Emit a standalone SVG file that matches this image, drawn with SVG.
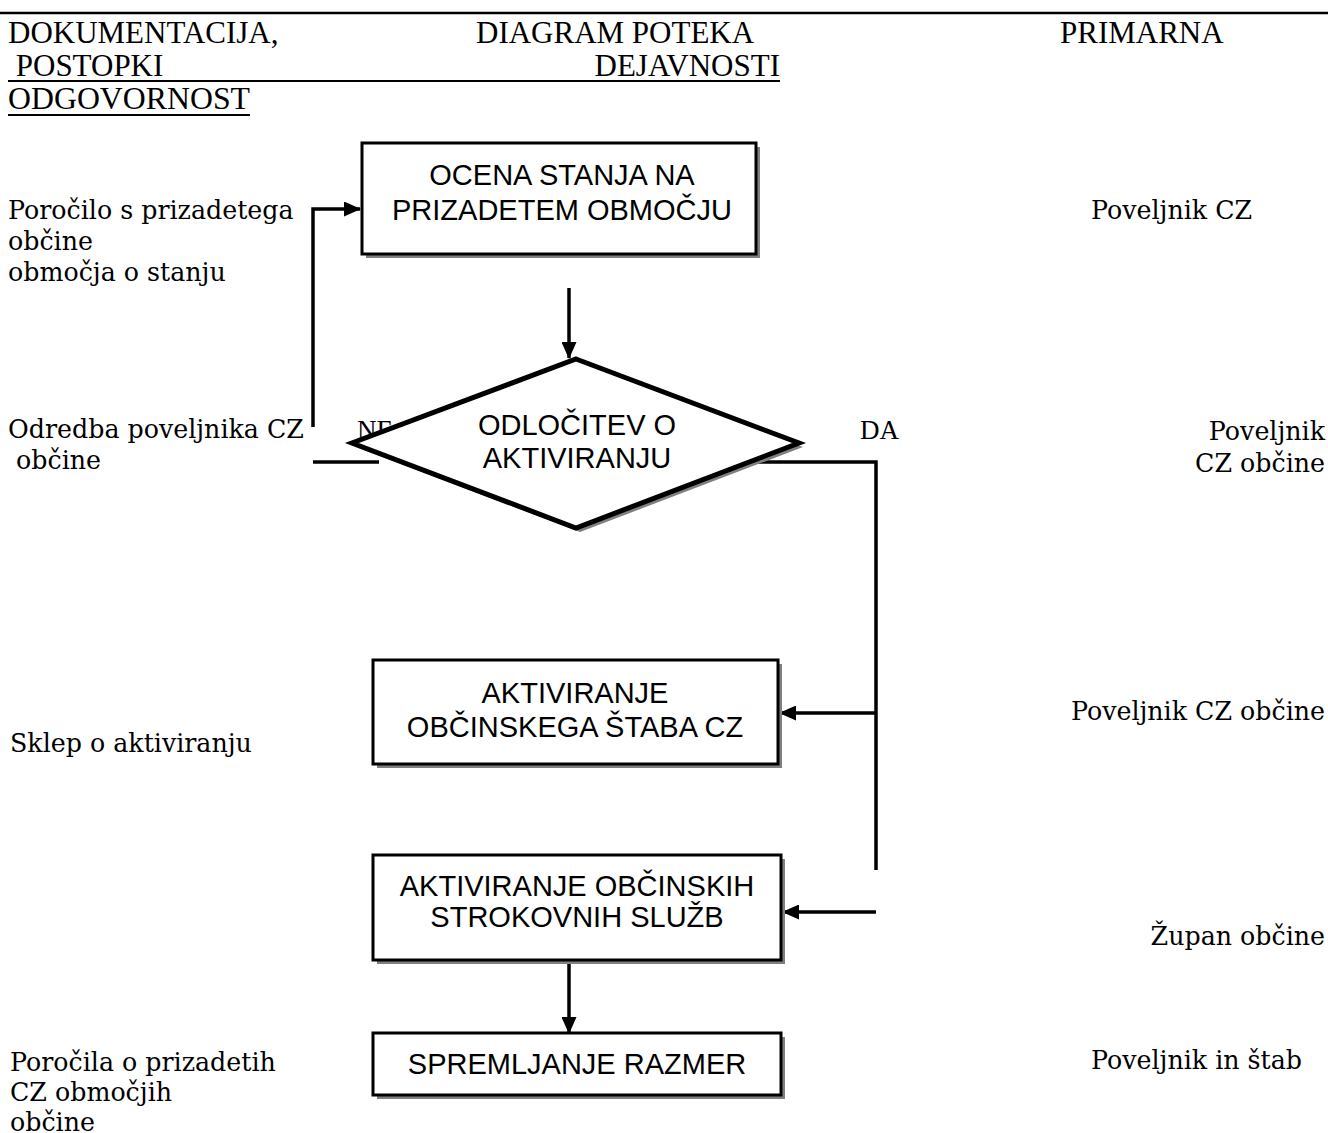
<svg xmlns="http://www.w3.org/2000/svg" width="1328" height="1133" viewBox="0 0 1328 1133">
<style>
.hdr{font-family:"Liberation Serif","Times New Roman",serif;font-size:31px;fill:#000}
.side{font-family:"DejaVu Serif","Liberation Serif",serif;font-size:25.3px;fill:#000}
.lbl{font-family:"Liberation Serif","Times New Roman",serif;font-size:27px;fill:#000}
.nt{font-family:"Liberation Sans",Arial,sans-serif;font-size:29px;fill:#000;text-anchor:middle}
.box{fill:#fff;stroke:#000;stroke-width:3}
.shadow{fill:#808080;stroke:none}
.con{fill:none;stroke:#000;stroke-width:3.5}
</style>
<defs>
<marker id="ah" markerUnits="userSpaceOnUse" markerWidth="17" markerHeight="15" refX="16" refY="7.5" orient="auto">
<path d="M0,0 L17,7.5 L0,15 Z" fill="#000"/>
</marker>
</defs>
<rect width="1328" height="1133" fill="#fff"/>
<line x1="0" y1="13" x2="1328" y2="13" stroke="#000" stroke-width="2.5"/>
<g id="header">
<text class="hdr" x="8" y="43">DOKUMENTACIJA,</text>
<text class="hdr" x="476" y="43">DIAGRAM POTEKA</text>
<text class="hdr" x="1060" y="43">PRIMARNA</text>
<text class="hdr" x="8" y="76" xml:space="preserve"> POSTOPKI</text>
<text class="hdr" x="780" y="76" text-anchor="end">DEJAVNOSTI</text>
<line x1="8" y1="81" x2="780" y2="81" stroke="#000" stroke-width="2"/>
<text class="hdr" x="8" y="109" textLength="242" lengthAdjust="spacingAndGlyphs">ODGOVORNOST</text>
<line x1="8" y1="115" x2="250" y2="115" stroke="#000" stroke-width="2"/>
</g>
<g id="left-texts">
<text class="side" x="8" y="219">Poročilo s prizadetega</text>
<text class="side" x="8" y="250">občine</text>
<text class="side" x="8" y="281">območja o stanju</text>
<text class="side" x="8" y="438">Odredba poveljnika CZ</text>
<text class="side" x="8" y="469" xml:space="preserve"> občine</text>
<text class="side" x="10" y="752">Sklep o aktiviranju</text>
<text class="side" x="10" y="1071">Poročila o prizadetih</text>
<text class="side" x="10" y="1101">CZ območjih</text>
<text class="side" x="10" y="1131">občine</text>
</g>
<g id="right-texts">
<text class="side" x="1091" y="219">Poveljnik CZ</text>
<text class="side" x="1325" y="440" text-anchor="end">Poveljnik</text>
<text class="side" x="1325" y="472" text-anchor="end">CZ občine</text>
<text class="side" x="1325" y="720" text-anchor="end">Poveljnik CZ občine</text>
<text class="side" x="1325" y="945" text-anchor="end">Župan občine</text>
<text class="side" x="1091" y="1069">Poveljnik in štab</text>
</g>
<g id="labels">
<text class="lbl" x="357" y="439">NE</text>
<text class="lbl" x="860" y="439">DA</text>
</g>
<g id="connectors">
<path class="con" d="M313,427 V209 H360" marker-end="url(#ah)"/>
<line class="con" x1="569" y1="288" x2="569" y2="358" marker-end="url(#ah)"/>
<line class="con" x1="313" y1="462" x2="379" y2="462"/>
<path class="con" d="M740,462 H876 V870" stroke-width="3"/>
<line class="con" x1="876" y1="713" x2="780" y2="713" stroke-width="3" marker-end="url(#ah)"/>
<line class="con" x1="876" y1="912" x2="783" y2="912" stroke-width="3" marker-end="url(#ah)"/>
<line class="con" x1="569" y1="960" x2="569" y2="1033" marker-end="url(#ah)"/>
</g>
<g id="node-ocena">
<rect class="shadow" x="366" y="147" width="394" height="111"/>
<rect class="box" x="362" y="143" width="394" height="111"/>
<text class="nt" x="562" y="185">OCENA STANJA NA</text>
<text class="nt" x="562" y="220">PRIZADETEM OBMOČJU</text>
</g>
<g id="node-odlocitev">
<polygon class="shadow" points="580,363 803,447 580,532 356,447"/>
<polygon points="576,359 799,443 576,528 352,443" fill="#fff" stroke="#000" stroke-width="5" stroke-linejoin="miter"/>
<text class="nt" x="577" y="435" font-size="27">ODLOČITEV O</text>
<text class="nt" x="577" y="468" font-size="27">AKTIVIRANJU</text>
</g>
<g id="node-stab">
<rect class="shadow" x="377" y="664" width="405" height="104"/>
<rect class="box" x="373" y="660" width="405" height="104"/>
<text class="nt" x="575" y="703">AKTIVIRANJE</text>
<text class="nt" x="575" y="737">OBČINSKEGA ŠTABA CZ</text>
</g>
<g id="node-sluzbe">
<rect class="shadow" x="377" y="859" width="408" height="105"/>
<rect class="box" x="373" y="855" width="408" height="105"/>
<text class="nt" x="577" y="896" font-size="26.5">AKTIVIRANJE OBČINSKIH</text>
<text class="nt" x="577" y="927" font-size="26.5">STROKOVNIH SLUŽB</text>
</g>
<g id="node-spremljanje">
<rect class="shadow" x="377" y="1037" width="408" height="62"/>
<rect class="box" x="373" y="1033" width="408" height="62"/>
<text class="nt" x="577" y="1074">SPREMLJANJE RAZMER</text>
</g>
</svg>
